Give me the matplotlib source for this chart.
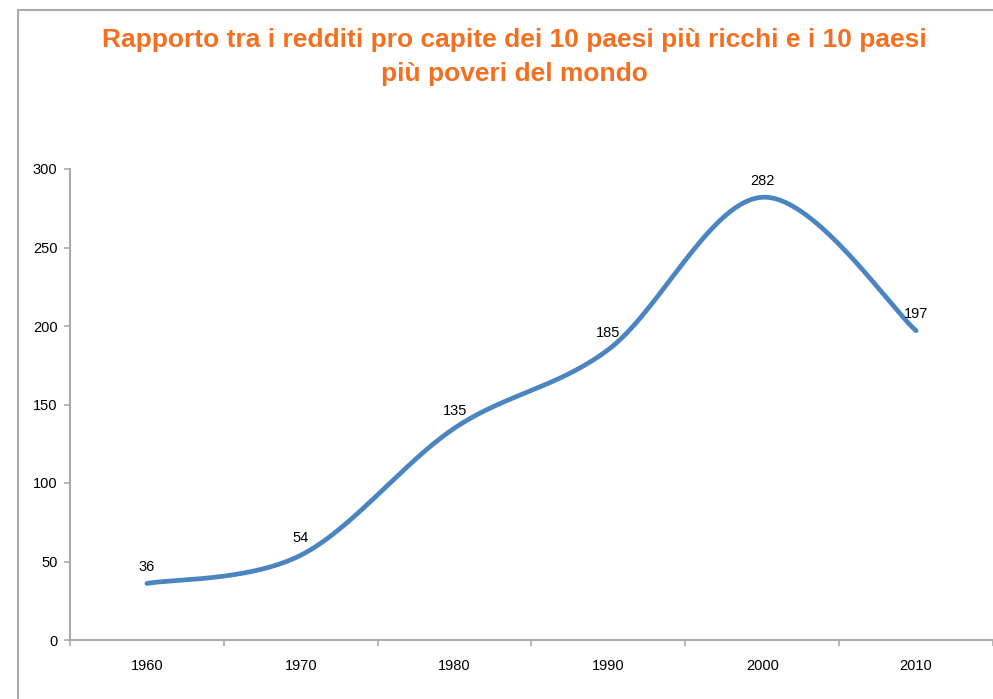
import numpy as np
import matplotlib
matplotlib.use("Agg")
import matplotlib.pyplot as plt
from matplotlib.patches import Rectangle

years = ["1960", "1970", "1980", "1990", "2000", "2010"]
ratio = [36, 54, 135, 185, 282, 197]
yticks = [0, 50, 100, 150, 200, 250, 300]
title = "Rapporto tra i redditi pro capite dei 10 paesi più ricchi e i 10 paesi\npiù poveri del mondo"

plt.rcParams['font.family'] = ['Liberation Sans', 'DejaVu Sans']

fig = plt.figure(figsize=(9.93, 6.99), dpi=100)
W, H = 993, 699

# outer frame
fig.patches.append(Rectangle((17.5 / W, -0.1), 2.0, 1.1 - 10 / H, transform=fig.transFigure,
                             fill=False, edgecolor='#aaaaaa', linewidth=1.5))

ax = fig.add_axes([70 / W, 1 - 640 / H, (993 - 70) / W, (640 - 169) / H])

x = np.arange(len(ratio))
y = np.array(ratio, dtype=float)

# Catmull-Rom (Excel-like) smoothing
pts = np.column_stack([x, y])
curve = []
n = len(pts)
for i in range(n - 1):
    p0 = pts[i - 1] if i > 0 else pts[i]
    p1 = pts[i]
    p2 = pts[i + 1]
    p3 = pts[i + 2] if i + 2 < n else pts[i + 1]
    c1 = p1 + (p2 - p0) / 6
    c2 = p2 - (p3 - p1) / 6
    t = np.linspace(0, 1, 60)[:, None]
    seg = (1 - t) ** 3 * p1 + 3 * (1 - t) ** 2 * t * c1 + 3 * (1 - t) * t ** 2 * c2 + t ** 3 * p2
    curve.append(seg if i == 0 else seg[1:])
curve = np.vstack(curve)
ax.plot(curve[:, 0], curve[:, 1], color='#4A84C1', linewidth=3.4, solid_capstyle='round')

for xi, yi in zip(x, ratio):
    ax.annotate(str(yi), (xi, yi), xytext=(0, 7), textcoords='offset points',
                ha='center', va='bottom', fontsize=10.5, color='black')

ax.set_xlim(-0.5, len(ratio) - 0.5)
ax.set_ylim(0, 300)
ax.set_yticks(yticks)
ax.set_yticklabels([str(v) for v in yticks])
ax.set_xticks(x)
ax.set_xticklabels(years)
ax.set_xticks(np.arange(-0.5, len(ratio)), minor=True)
ax.tick_params(axis='x', which='major', length=0, pad=14, labelsize=10.5)
ax.tick_params(axis='x', which='minor', length=4, color='#aaaaaa', width=1.2)
ax.tick_params(axis='y', length=4, color='#aaaaaa', width=1.2, pad=5, labelsize=10.5)

for s in ['top', 'right']:
    ax.spines[s].set_visible(False)
for s in ['left', 'bottom']:
    ax.spines[s].set_color('#aaaaaa')
    ax.spines[s].set_linewidth(1.5)

fig.text(514 / W, 1 - 57 / H, title, ha='center', va='center', fontsize=19,
         fontweight='bold', color='#F37021', linespacing=1.5)

fig.savefig('out.png', dpi=100)
